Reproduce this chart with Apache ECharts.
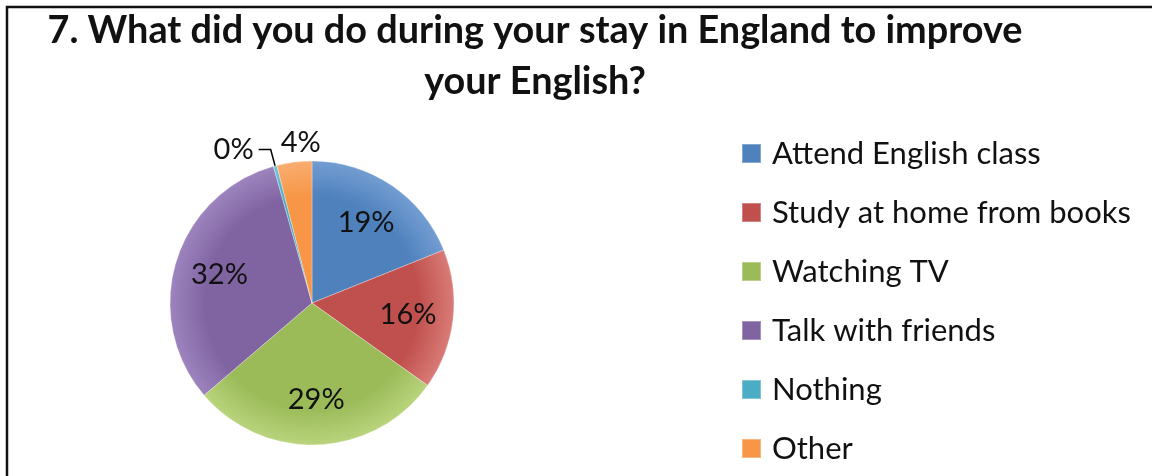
<!DOCTYPE html>
<html>
<head>
<meta charset="utf-8">
<script src="https://cdn.jsdelivr.net/npm/echarts@6/dist/echarts.min.js"></script>
<style>
  html, body { margin: 0; padding: 0; background: #ffffff; }
  #chart { width: 1152px; height: 476px; }
</style>
</head>
<body>
<div id="chart"></div>
<script>
// Survey answers, question 7
const categories = ['Attend English class', 'Study at home from books', 'Watching TV', 'Talk with friends', 'Nothing', 'Other'];
const shares = [19, 16, 29, 32, 0.4, 4];
const baseColors = ['#4F81BD', '#C0504D', '#9BBB59', '#8064A2', '#4BACC6', '#F79646'];
const rimColors = ['#739DD2', '#D97B77', '#B9D47C', '#9D84BE', '#76C4D8', '#F9AD70'];
const titleLines = ['7. What did you do during your stay in England to improve', 'your English?'];

const CX = 312, CY = 303, R = 142;
const labelFont = "Lato, 'Open Sans', sans-serif";
const titleFont = 'bold 39px Lato';
const TITLE_WIDTH = 975;

// the heading is set in a narrow cut: squeeze Lato Bold to the line width
const measureCtx = document.createElement('canvas').getContext('2d');
measureCtx.font = titleFont;
const titleSqueeze = TITLE_WIDTH / measureCtx.measureText(titleLines[0]).width;

// bevel-like shading: flat in the middle, brighter towards the rim
function sliceFill(i) {
  return {
    type: 'radial', x: CX, y: CY, r: R, global: true,
    colorStops: [
      { offset: 0, color: baseColors[i] },
      { offset: 0.75, color: baseColors[i] },
      { offset: 1, color: rimColors[i] }
    ]
  };
}

const pieData = categories.map((name, i) => ({
  name: name,
  value: shares[i],
  itemStyle: { color: sliceFill(i) }
}));

// small slices carry their labels outside the pie
pieData[4].label = { show: true, position: 'outside' };
pieData[4].labelLine = { show: true, length: 17, length2: 12, lineStyle: { color: '#000', width: 1.5 } };
pieData[5].label = { show: true, position: 'outside' };
pieData[5].labelLine = { show: false, length: 20, length2: 0 };

// transparent twin pie, only used to put the big labels further out
const labelData = categories.map((name, i) => ({
  name: name,
  value: shares[i],
  label: { show: i < 4 }
}));

const legendData = categories.map((name, i) => ({
  name: name,
  itemStyle: { color: baseColors[i] }
}));

const chart = echarts.init(document.getElementById('chart'), null, { renderer: 'canvas' });

chart.setOption({
  animation: false,
  backgroundColor: '#ffffff',
  graphic: [
    {
      type: 'rect',
      shape: { x: 7, y: 7, width: 1200, height: 520 },
      style: { fill: 'none', stroke: '#111', lineWidth: 2.5 },
      silent: true, z: 0
    },
    {
      type: 'group',
      x: 535,
      y: 11,
      scaleX: titleSqueeze,
      silent: true,
      children: titleLines.map((line, k) => ({
        type: 'text',
        x: 0,
        y: k * 51,
        style: {
          text: line,
          font: titleFont,
          fill: '#111',
          align: 'center',
          verticalAlign: 'top'
        }
      }))
    }
  ],
  legend: {
    orient: 'vertical',
    left: 741,
    top: 138,
    padding: 0,
    itemWidth: 19,
    itemHeight: 19,
    itemGap: 28,
    icon: 'rect',
    selectedMode: false,
    data: legendData,
    textStyle: { fontFamily: labelFont, fontSize: 31, color: '#111', padding: [0, 0, 0, 6] }
  },
  series: [
    {
      type: 'pie',
      name: 'answers',
      center: [CX, CY],
      radius: [0, R],
      startAngle: 90,
      clockwise: true,
      avoidLabelOverlap: false,
      percentPrecision: 0,
      data: pieData,
      itemStyle: { borderColor: 'rgba(255,255,255,0.3)', borderWidth: 1 },
      label: {
        show: false,
        formatter: '{d}%',
        fontFamily: labelFont,
        fontSize: 29,
        color: '#111'
      },
      labelLayout: function (p) {
        if (p.dataIndex === 5) {
          return { align: 'center', dx: 14 };
        }
      },
      emphasis: { disabled: true }
    },
    {
      type: 'pie',
      name: 'labels',
      center: [CX, CY],
      radius: [0, R * 1.32],
      startAngle: 90,
      clockwise: true,
      silent: true,
      percentPrecision: 0,
      data: labelData,
      itemStyle: { color: 'rgba(0,0,0,0)' },
      labelLine: { show: false },
      label: {
        position: 'inside',
        formatter: '{d}%',
        fontFamily: labelFont,
        fontSize: 29,
        color: '#111'
      },
      emphasis: { disabled: true },
      z: 3
    }
  ]
});
</script>
</body>
</html>
